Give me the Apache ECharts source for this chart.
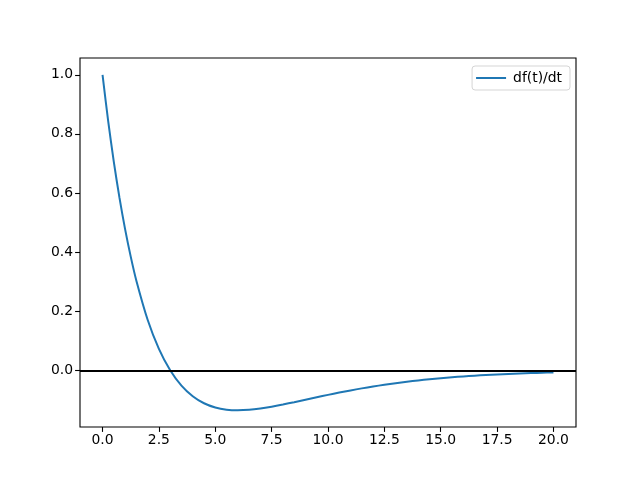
<!DOCTYPE html>
<html><head><meta charset="utf-8">
<script src="https://cdn.jsdelivr.net/npm/echarts@6/dist/echarts.min.js"></script>
<style>html,body{margin:0;padding:0;background:#fff}#c{width:640px;height:480px}</style>
</head><body><div id="c"></div>
<script>
var tValues = [0,0.25,0.5,0.75,1,1.25,1.5,2,2.5,3,3.5,4,4.5,5,5.5,6,6.5,7,7.5,8,8.5,9,9.5,10,10.5,11,11.5,12,12.5,13,13.5,14,14.5,15,15.5,16,16.5,17,17.5,18,18.5,19,19.5,20];
var dfValues = [1,0.8433,0.7054,0.5841,0.4777,0.3845,0.3033,0.1711,0.0724,0,-0.0519,-0.0879,-0.1116,-0.1259,-0.1333,-0.1353,-0.1337,-0.1293,-0.1231,-0.1158,-0.1079,-0.0996,-0.0913,-0.0833,-0.0755,-0.0682,-0.0613,-0.0549,-0.0491,-0.0437,-0.0389,-0.0345,-0.0305,-0.0270,-0.0238,-0.0209,-0.0184,-0.0161,-0.0142,-0.0124,-0.0108,-0.0095,-0.0083,-0.0072];
var seriesName = 'df(t)/dt';
var xTicks = [0,2.5,5,7.5,10,12.5,15,17.5,20];
var yTicks = [0,0.2,0.4,0.6,0.8,1.0];

var data = tValues.map(function(t,i){return [t, dfValues[i]];});
var chart = echarts.init(document.getElementById('c'), null, {renderer:'canvas'});
var font = 'DejaVu Sans';
chart.setOption({
  animation:false,
  backgroundColor:'#fff',
  grid:{left:80,right:64,top:58,bottom:53,show:true,borderColor:'#000',borderWidth:1.1,containLabel:false},
  legend:{
    data:[seriesName], right:70, top:66, orient:'vertical',
    backgroundColor:'#fff', borderColor:'#d5d5d5', borderWidth:1, borderRadius:3,
    padding:[5,8,5,4], itemWidth:30, itemHeight:2, itemGap:6,
    icon:'rect',
    textStyle:{fontFamily:font,fontSize:13.9,color:'#000',padding:[0,0,0,2]}
  },
  xAxis:{
    type:'value', min:-1, max:21,
    axisLine:{show:false,onZero:false},
    splitLine:{show:false},
    axisTick:{show:true,length:4.9,lineStyle:{color:'#000',width:1.1},customValues:xTicks},
    axisLabel:{fontFamily:font,fontSize:13.9,color:'#000',margin:6,customValues:xTicks,
      formatter:function(v){return v.toFixed(1);}}
  },
  yAxis:{
    type:'value', min:-0.192, max:1.0568,
    axisLine:{show:false,onZero:false},
    splitLine:{show:false},
    axisTick:{show:true,length:4.9,lineStyle:{color:'#000',width:1.1},customValues:yTicks},
    axisLabel:{fontFamily:font,fontSize:13.9,color:'#000',margin:7,customValues:yTicks,
      formatter:function(v){return v.toFixed(1);}}
  },
  series:[{
    name:seriesName, type:'line', data:data, smooth:0.3, showSymbol:false, symbol:'none',
    lineStyle:{color:'#1f77b4',width:2},
    itemStyle:{color:'#1f77b4'},
    markLine:{silent:true,symbol:'none',label:{show:false},
      lineStyle:{color:'#000',width:2,type:'solid'},
      data:[{yAxis:0}]}
  }]
});
</script></body></html>
